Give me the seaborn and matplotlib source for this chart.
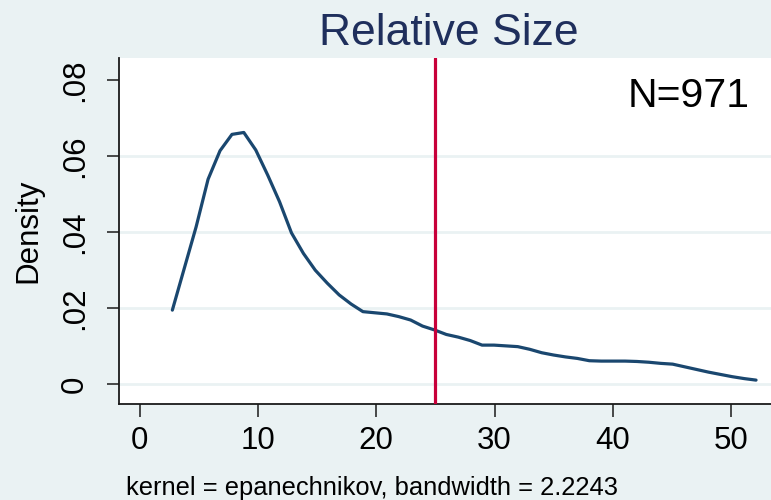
import matplotlib
matplotlib.use("Agg")
import matplotlib.pyplot as plt
import seaborn as sns
import pandas as pd

# Kernel density estimate of relative size (evaluation grid and density)
relative_size = [
    2.76, 3.77, 4.77, 5.78, 6.79, 7.80, 8.80, 9.81, 10.82, 11.82,
    12.83, 13.84, 14.84, 15.85, 16.86, 17.87, 18.87, 19.88, 20.89, 21.89,
    22.90, 23.91, 24.91, 25.92, 26.93, 27.94, 28.94, 29.95, 30.96, 31.96,
    32.97, 33.98, 34.98, 35.99, 37.00, 38.01, 39.01, 40.02, 41.03, 42.03,
    43.04, 44.05, 45.05, 46.06, 47.07, 48.08, 49.08, 50.09, 51.10, 52.10,
]
density = [
    0.0195, 0.0305, 0.0414, 0.0539, 0.0614, 0.0657, 0.0662, 0.0616, 0.0550, 0.0480,
    0.0398, 0.0344, 0.0300, 0.0266, 0.0235, 0.0211, 0.0191, 0.0188, 0.0185, 0.0178,
    0.0169, 0.0153, 0.0143, 0.0131, 0.0124, 0.0115, 0.0103, 0.0103, 0.0101, 0.0099,
    0.0092, 0.0083, 0.0077, 0.0072, 0.0068, 0.0062, 0.0061, 0.0061, 0.0061, 0.0060,
    0.0058, 0.0055, 0.0053, 0.0046, 0.0039, 0.0032, 0.0026, 0.0020, 0.0015, 0.0011,
]
cutoff = 25
n_obs = 971
kernel_name = "epanechnikov"
bandwidth = 2.2243

x_ticks = [0, 10, 20, 30, 40, 50]
y_ticks = [0, 0.02, 0.04, 0.06, 0.08]
y_tick_labels = ["0", ".02", ".04", ".06", ".08"]
grid_levels = [0, 0.02, 0.04, 0.06]

BG = "#EAF2F3"
NAVY = "#1A476F"
RED = "#C8003A"
TITLE = "#1F2F5C"

sns.set_theme(style="white")
plt.rcParams["font.family"] = ["Liberation Sans", "DejaVu Sans"]

W, H = 771, 500
fig = plt.figure(figsize=(W / 100, H / 100), dpi=100, facecolor=BG)

# plot region in pixel coordinates
left, right, top, bottom = 119, 779, 58.3, 404.3
ax = fig.add_axes([left / W, 1 - bottom / H, (right - left) / W, (bottom - top) / H])
ax.set_facecolor("white")

px_per_x = 11.83
x0_px = 139.7
px_per_y = 3804
y0_px = 384.3
ax.set_xlim((left - x0_px) / px_per_x, (right - x0_px) / px_per_x)
ax.set_ylim((y0_px - bottom) / px_per_y, (y0_px - top) / px_per_y)

for g in grid_levels:
    ax.axhline(g, color=BG, lw=2.0, zorder=0)

df = pd.DataFrame({"x": relative_size, "y": density})
sns.lineplot(data=df, x="x", y="y", ax=ax, color=NAVY, lw=2.3, zorder=3)
ax.axvline(cutoff, color=RED, lw=2.3, zorder=4)

for side in ["top", "right"]:
    ax.spines[side].set_visible(False)
for side in ["left", "bottom"]:
    ax.spines[side].set_color("#1a1a1a")
    ax.spines[side].set_linewidth(1.3)

ax.set_xticks(x_ticks)
ax.set_xticklabels([str(t) for t in x_ticks])
ax.set_yticks(y_ticks)
ax.set_yticklabels(y_tick_labels)
ax.tick_params(axis="x", direction="out", length=9.5, width=1.1, color="#1a1a1a",
               labelsize=22.5, pad=6, bottom=True, labelcolor="black")
ax.tick_params(axis="y", direction="out", length=9, width=1.1, color="#1a1a1a",
               labelsize=22.5, pad=12, left=True, labelrotation=90, labelcolor="black")
for lab in ax.get_yticklabels():
    lab.set_va("center")

ax.set_xlabel("")
ax.set_ylabel("Density", fontsize=22.5, color="black", labelpad=12)

ax.text((750 - left) / (right - left), 1 - (107 - top) / (bottom - top), f"N={n_obs}",
        transform=ax.transAxes, ha="right", va="baseline", fontsize=29.5, color="black")

fig.text(449 / W, 1 - 45 / H, "Relative Size", ha="center", va="baseline",
         fontsize=32, color=TITLE)
fig.text(126 / W, 1 - 495 / H, f"kernel = {kernel_name}, bandwidth = {bandwidth:.4f}",
         ha="left", va="baseline", fontsize=18.4, color="black")

fig.savefig("out.png", dpi=100, facecolor=BG)
